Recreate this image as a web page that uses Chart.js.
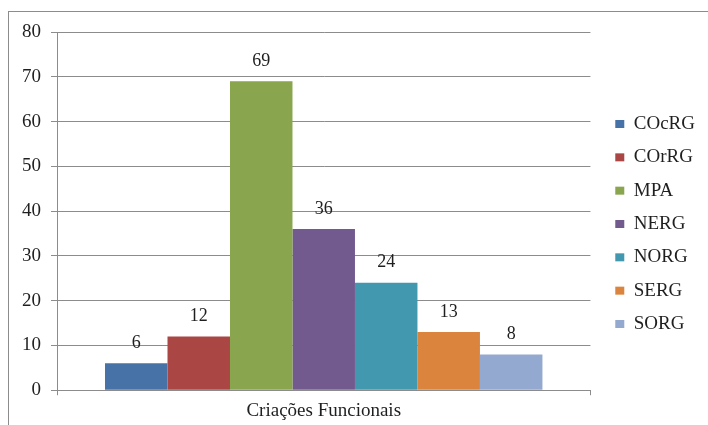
<!DOCTYPE html>
<html>
<head>
<meta charset="utf-8">
<script src="https://cdn.jsdelivr.net/npm/chart.js@4/dist/chart.umd.min.js"></script>
<style>
  html, body { margin: 0; padding: 0; background: #fff; overflow: hidden; }
  #wrap { position: relative; width: 708px; height: 425px; overflow: hidden; }
  #frame { position: absolute; left: 8px; top: 11px; width: 720px; height: 430px; border: 1px solid #8c8c8c; box-sizing: border-box; }
  #chart { position: absolute; left: 0; top: 0; }
</style>
</head>
<body>
<div id="wrap">
  <div id="frame"></div>
  <canvas id="chart" width="708" height="429"></canvas>
</div>
<script>
// Single category, one bar per region series
const categories = ['Criações Funcionais'];
const seriesNames = ['COcRG', 'COrRG', 'MPA', 'NERG', 'NORG', 'SERG', 'SORG'];
const seriesValues = [6, 12, 69, 36, 24, 13, 8];
const seriesColors = ['#4672A8', '#AA4643', '#89A54E', '#725A8F', '#4198AF', '#DB843D', '#93A9CF'];
const yTicks = [0, 10, 20, 30, 40, 50, 60, 70, 80];

const serif = 'Liberation Serif, Times New Roman, serif';
const gridGray = '#8c8c8c';
const textColor = '#1f1f1f';

// value labels sitting above each bar
const valueLabels = {
  id: 'valueLabels',
  afterDatasetsDraw(chart) {
    const ctx = chart.ctx;
    ctx.save();
    ctx.font = '18px ' + serif;
    ctx.fillStyle = textColor;
    ctx.textAlign = 'center';
    ctx.textBaseline = 'middle';
    chart.data.datasets.forEach((ds, i) => {
      const meta = chart.getDatasetMeta(i);
      meta.data.forEach((bar, j) => {
        ctx.fillText(String(ds.data[j]), bar.x, bar.y - 20);
      });
    });
    ctx.restore();
  }
};

// hidden scale used only as blank spacing around the plot
function spacer(position, size) {
  return {
    type: 'linear',
    position: position,
    grid: { display: false },
    border: { display: false },
    ticks: { display: false },
    afterFit(scale) {
      if (scale.isHorizontal()) scale.height = size;
      else scale.width = size;
    }
  };
}

new Chart(document.getElementById('chart'), {
  type: 'bar',
  data: {
    labels: categories,
    datasets: seriesNames.map((name, i) => ({
      label: name,
      data: [seriesValues[i]],
      backgroundColor: seriesColors[i],
      borderWidth: 0,
      categoryPercentage: 0.82,
      barPercentage: 1
    }))
  },
  options: {
    responsive: false,
    animation: false,
    layout: { padding: { top: 22, left: 12, right: 3, bottom: 3 } },
    scales: {
      y: {
        min: 0,
        max: 80,
        afterBuildTicks(axis) { axis.ticks = yTicks.map(v => ({ value: v })); },
        grid: { color: gridGray, lineWidth: 1, tickLength: 6 },
        border: { color: gridGray, width: 1 },
        ticks: { color: textColor, font: { family: serif, size: 19 }, padding: 10 }
      },
      x: {
        offset: true,
        grid: { color: gridGray, drawOnChartArea: false, tickLength: 5, offset: true },
        border: { color: gridGray, width: 1 },
        ticks: { color: textColor, font: { family: serif, size: 19 }, padding: 4 }
      },
      gapRight: spacer('right', 10.5),
      gapTop: spacer('top', 10)
    },
    plugins: {
      legend: {
        position: 'right',
        labels: {
          boxWidth: 9,
          boxHeight: 8,
          padding: 14.33,
          color: textColor,
          font: { family: serif, size: 19 }
        }
      },
      tooltip: { enabled: false }
    }
  },
  plugins: [valueLabels]
});
</script>
</body>
</html>
